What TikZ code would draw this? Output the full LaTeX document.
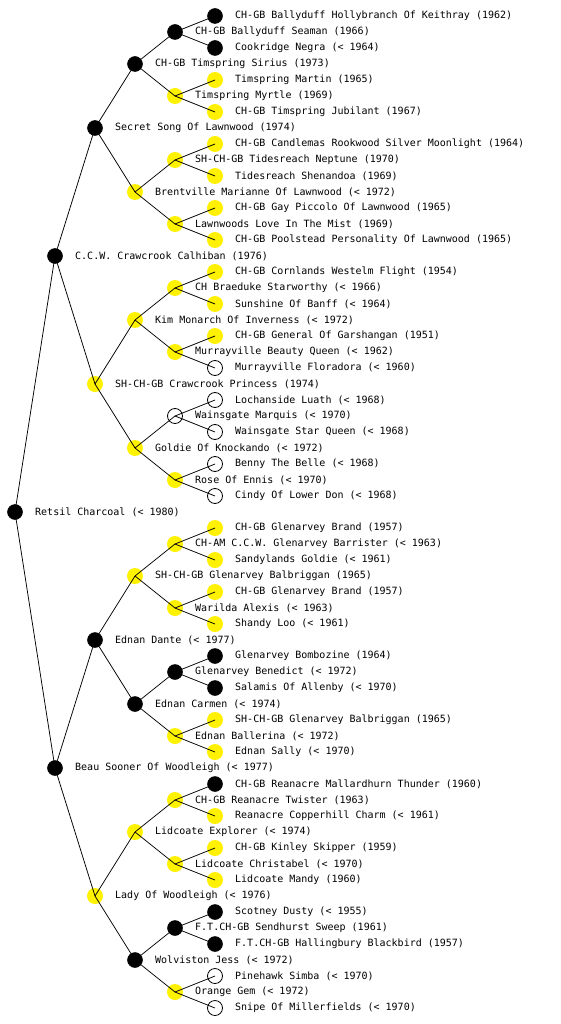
\documentclass[tikz,border=0pt]{standalone}
\usepackage{fontspec}
\newfontfamily\pedmono{DejaVu Sans Mono}
\tikzset{
  blk/.style={circle, fill=black, draw=black, line width=0.5pt, minimum size=15pt, inner sep=0pt},
  yel/.style={circle, fill=yellow, minimum size=16pt, inner sep=0pt},
  wht/.style={circle, draw=black, fill=white, line width=0.8pt, minimum size=15pt, inner sep=0pt},
  lbl/.style={anchor=west, inner sep=0pt, font=\pedmono\fontsize{10}{10}\selectfont},
  link/.style={line width=0.75pt, draw=black}
}
\newcommand{\pedn}[5]{%
  \pgfmathsetmacro{\px}{15+40*#2}%
  \pgfmathsetmacro{\pstep}{512/(2^#2)}%
  \pgfmathsetmacro{\py}{-(2*#3+1)*\pstep}%
  \node[#4] (n#1) at (\px pt,\py pt) {};
  \node[lbl] (t#1) at (\px pt+20pt,\py pt) {#5};
}
\begin{document}
\begin{tikzpicture}[x=1pt,y=1pt]
\useasboundingbox (0,0) rectangle (560,-1024);
\fill[white] (0,0) rectangle (560,-1024);
% generation 0
\pedn{1}{0}{0}{blk}{Retsil Charcoal (< 1980)}
% generation 1
\pedn{2}{1}{0}{blk}{C.C.W. Crawcrook Calhiban (1976)}
\pedn{3}{1}{1}{blk}{Beau Sooner Of Woodleigh (< 1977)}
% generation 2
\pedn{4}{2}{0}{blk}{Secret Song Of Lawnwood (1974)}
\pedn{5}{2}{1}{yel}{SH-CH-GB Crawcrook Princess (1974)}
\pedn{6}{2}{2}{blk}{Ednan Dante (< 1977)}
\pedn{7}{2}{3}{yel}{Lady Of Woodleigh (< 1976)}
% generation 3
\pedn{8}{3}{0}{blk}{CH-GB Timspring Sirius (1973)}
\pedn{9}{3}{1}{yel}{Brentville Marianne Of Lawnwood (< 1972)}
\pedn{10}{3}{2}{yel}{Kim Monarch Of Inverness (< 1972)}
\pedn{11}{3}{3}{yel}{Goldie Of Knockando (< 1972)}
\pedn{12}{3}{4}{yel}{SH-CH-GB Glenarvey Balbriggan (1965)}
\pedn{13}{3}{5}{blk}{Ednan Carmen (< 1974)}
\pedn{14}{3}{6}{yel}{Lidcoate Explorer (< 1974)}
\pedn{15}{3}{7}{blk}{Wolviston Jess (< 1972)}
% generation 4
\pedn{16}{4}{0}{blk}{CH-GB Ballyduff Seaman (1966)}
\pedn{17}{4}{1}{yel}{Timspring Myrtle (1969)}
\pedn{18}{4}{2}{yel}{SH-CH-GB Tidesreach Neptune (1970)}
\pedn{19}{4}{3}{yel}{Lawnwoods Love In The Mist (1969)}
\pedn{20}{4}{4}{yel}{CH Braeduke Starworthy (< 1966)}
\pedn{21}{4}{5}{yel}{Murrayville Beauty Queen (< 1962)}
\pedn{22}{4}{6}{wht}{Wainsgate Marquis (< 1970)}
\pedn{23}{4}{7}{yel}{Rose Of Ennis (< 1970)}
\pedn{24}{4}{8}{yel}{CH-AM C.C.W. Glenarvey Barrister (< 1963)}
\pedn{25}{4}{9}{yel}{Warilda Alexis (< 1963)}
\pedn{26}{4}{10}{blk}{Glenarvey Benedict (< 1972)}
\pedn{27}{4}{11}{yel}{Ednan Ballerina (< 1972)}
\pedn{28}{4}{12}{yel}{CH-GB Reanacre Twister (1963)}
\pedn{29}{4}{13}{yel}{Lidcoate Christabel (< 1970)}
\pedn{30}{4}{14}{blk}{F.T.CH-GB Sendhurst Sweep (1961)}
\pedn{31}{4}{15}{yel}{Orange Gem (< 1972)}
% generation 5
\pedn{32}{5}{0}{blk}{CH-GB Ballyduff Hollybranch Of Keithray (1962)}
\pedn{33}{5}{1}{blk}{Cookridge Negra (< 1964)}
\pedn{34}{5}{2}{yel}{Timspring Martin (1965)}
\pedn{35}{5}{3}{yel}{CH-GB Timspring Jubilant (1967)}
\pedn{36}{5}{4}{yel}{CH-GB Candlemas Rookwood Silver Moonlight (1964)}
\pedn{37}{5}{5}{yel}{Tidesreach Shenandoa (1969)}
\pedn{38}{5}{6}{yel}{CH-GB Gay Piccolo Of Lawnwood (1965)}
\pedn{39}{5}{7}{yel}{CH-GB Poolstead Personality Of Lawnwood (1965)}
\pedn{40}{5}{8}{yel}{CH-GB Cornlands Westelm Flight (1954)}
\pedn{41}{5}{9}{yel}{Sunshine Of Banff (< 1964)}
\pedn{42}{5}{10}{yel}{CH-GB General Of Garshangan (1951)}
\pedn{43}{5}{11}{wht}{Murrayville Floradora (< 1960)}
\pedn{44}{5}{12}{wht}{Lochanside Luath (< 1968)}
\pedn{45}{5}{13}{wht}{Wainsgate Star Queen (< 1968)}
\pedn{46}{5}{14}{wht}{Benny The Belle (< 1968)}
\pedn{47}{5}{15}{wht}{Cindy Of Lower Don (< 1968)}
\pedn{48}{5}{16}{yel}{CH-GB Glenarvey Brand (1957)}
\pedn{49}{5}{17}{yel}{Sandylands Goldie (< 1961)}
\pedn{50}{5}{18}{yel}{CH-GB Glenarvey Brand (1957)}
\pedn{51}{5}{19}{yel}{Shandy Loo (< 1961)}
\pedn{52}{5}{20}{blk}{Glenarvey Bombozine (1964)}
\pedn{53}{5}{21}{blk}{Salamis Of Allenby (< 1970)}
\pedn{54}{5}{22}{yel}{SH-CH-GB Glenarvey Balbriggan (1965)}
\pedn{55}{5}{23}{yel}{Ednan Sally (< 1970)}
\pedn{56}{5}{24}{blk}{CH-GB Reanacre Mallardhurn Thunder (1960)}
\pedn{57}{5}{25}{yel}{Reanacre Copperhill Charm (< 1961)}
\pedn{58}{5}{26}{yel}{CH-GB Kinley Skipper (1959)}
\pedn{59}{5}{27}{yel}{Lidcoate Mandy (1960)}
\pedn{60}{5}{28}{blk}{Scotney Dusty (< 1955)}
\pedn{61}{5}{29}{blk}{F.T.CH-GB Hallingbury Blackbird (1957)}
\pedn{62}{5}{30}{wht}{Pinehawk Simba (< 1970)}
\pedn{63}{5}{31}{wht}{Snipe Of Millerfields (< 1970)}
% connectors parent -> children
\foreach \k in {1,...,31}{
  \pgfmathtruncatemacro{\ca}{2*\k}
  \pgfmathtruncatemacro{\cb}{2*\k+1}
  \draw[link] (n\k.center) -- (n\ca.center);
  \draw[link] (n\k.center) -- (n\cb.center);
}
\end{tikzpicture}
\end{document}
